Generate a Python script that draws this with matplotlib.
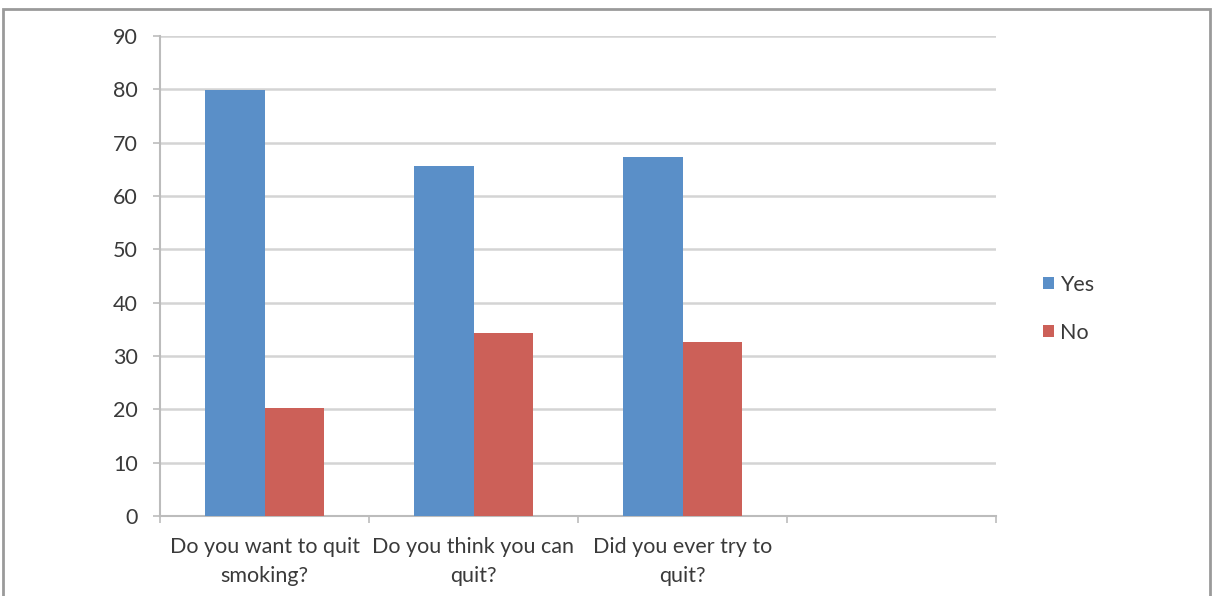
import matplotlib.pyplot as plt
import matplotlib.patches as patches
import numpy as np

categories = ["Do you want to quit\nsmoking?", "Do you think you can\nquit?", "Did you ever try to\nquit?", ""]
yes_values = [79.8, 65.6, 67.3]
no_values = [20.3, 34.4, 32.7]

blue = "#5a8fc8"
red = "#cc6058"
text_color = "#3a3a3a"

plt.rcParams["font.family"] = ["Lato", "DejaVu Sans"]

fig = plt.figure(figsize=(12.16, 5.96), dpi=100)
# axes: x 160..996, y 36..516 (pixels)
ax = fig.add_axes([160 / 1216, 1 - 516 / 596, 836 / 1216, 480 / 596])

# outer frame like a pasted screenshot
frame = patches.Rectangle((3 / 1216, -0.05), 1207 / 1216, 1.05 - 9 / 596,
                          transform=fig.transFigure, fill=False,
                          edgecolor="#9a9a9a", linewidth=2)
fig.patches.append(frame)

width = 0.287
x = np.arange(len(yes_values))
ax.bar(x - width / 2, yes_values, width, color=blue, label="Yes", zorder=3)
ax.bar(x + width / 2, no_values, width, color=red, label="No", zorder=3)

ax.set_xlim(-0.5, len(categories) - 0.5)
ax.set_ylim(0, 90)
ax.set_yticks(range(0, 91, 10))
ax.yaxis.grid(True, color="#d4d4d4", linewidth=1.8, zorder=0)
ax.set_axisbelow(True)

ax.set_xticks(np.arange(len(categories)))
ax.set_xticklabels(categories, fontsize=15.5, color=text_color, linespacing=1.6)
ax.tick_params(axis="x", length=0, pad=15)
ax.set_xticks(np.arange(len(categories) + 1) - 0.5, minor=True)
ax.tick_params(axis="x", which="minor", length=5, color="#bcbcbc", width=1.2)
ax.tick_params(axis="y", length=5, color="#bcbcbc", width=1.2, labelsize=15.5,
               labelcolor=text_color, pad=11)

for side in ["top", "right"]:
    ax.spines[side].set_visible(False)
for side in ["left", "bottom"]:
    ax.spines[side].set_color("#bcbcbc")
    ax.spines[side].set_linewidth(1.5)

ax.legend(loc="upper left", bbox_to_anchor=(1043 / 1216, 1 - 275 / 596),
          bbox_transform=fig.transFigure, frameon=False, fontsize=15.5,
          borderpad=0, borderaxespad=0,
          handlelength=0.5, handleheight=0.5, handletextpad=0.3,
          labelspacing=1.3, labelcolor=text_color)

fig.savefig("out.png", dpi=100)
